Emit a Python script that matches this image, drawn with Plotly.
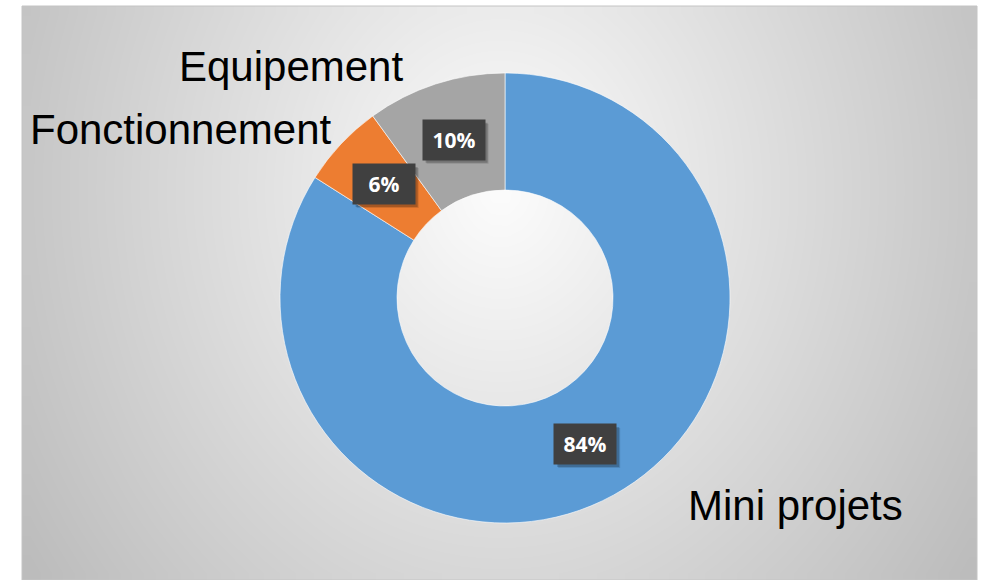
import numpy as np
import plotly.graph_objects as go

W, H = 984, 580

# chart data
categories = ["Mini projets", "Fonctionnement", "Equipement"]
shares = [84, 6, 10]
pct_labels = ["84%", "6%", "10%"]
colors = ["#5B9BD5", "#ED7D31", "#A5A5A5"]

# doughnut geometry (pixels)
cx, cy, R = 505, 298, 225
hole = 0.48

# chart panel (pixels)
px0, px1, py0, py1 = 22, 977, 6, 580

fig = go.Figure()

# radial grey gradient behind the chart
xe = np.linspace(px0, px1, 61)
ye = np.linspace(py0, py1, 41)
xc = (xe[:-1] + xe[1:]) / 2
yc = (ye[:-1] + ye[1:]) / 2
XX, YY = np.meshgrid(xc, yc)
d = np.sqrt(((XX - 500) / 480) ** 2 + ((YY - 190) / 560) ** 2)
grey = np.clip(252 - 54 * d, 180, 252)
fig.add_trace(go.Heatmap(
    x=xe, y=ye, z=grey, zmin=0, zmax=255,
    colorscale=[[0, "rgb(0,0,0)"], [1, "rgb(255,255,255)"]],
    zsmooth="best", showscale=False, hoverinfo="skip",
))

fig.add_trace(go.Pie(
    labels=categories, values=shares, sort=False,
    direction="clockwise", rotation=0, hole=hole,
    marker=dict(colors=colors, line=dict(color="rgba(255,255,255,0.6)", width=1)),
    textinfo="none", hoverinfo="label+percent", showlegend=False,
    domain=dict(x=[(cx - R) / W, (cx + R) / W],
                y=[1 - (cy + R) / H, 1 - (cy - R) / H]),
))

annotations = []
shapes = [dict(type="rect", xref="x", yref="y", x0=px0, x1=px1, y0=py0, y1=py1,
               line=dict(color="#c4c4c4", width=1), layer="above")]

# percentage tags placed mid-ring on each slice
tag_w, tag_h = 62, 40
total = sum(shares)
rm = R * (1 + hole) / 2
cum = 0
for v, txt in zip(shares, pct_labels):
    theta = 2 * np.pi * (cum + v / 2) / total
    cum += v
    lx = cx + rm * np.sin(theta)
    ly = cy - rm * np.cos(theta)
    # soft drop shadow under the tag
    for off, alpha in ((4, 0.12), (3, 0.2)):
        shapes.append(dict(type="rect", xref="paper", yref="paper", layer="above",
                           x0=(lx - tag_w / 2 + off) / W, x1=(lx + tag_w / 2 + off) / W,
                           y0=1 - (ly + tag_h / 2 + off) / H, y1=1 - (ly - tag_h / 2 + off) / H,
                           fillcolor=f"rgba(0,0,0,{alpha})", line=dict(width=0)))
    annotations.append(dict(x=lx, y=ly, xref="x", yref="y", showarrow=False,
                            text=f"<b>{txt}</b>", width=tag_w - 12, height=tag_h - 12,
                            borderpad=6, bgcolor="#404040", align="center", valign="middle",
                            font=dict(family="Open Sans", size=21, color="white")))

# category labels
cat_pos = {"Equipement": (291, 66), "Fonctionnement": (181, 129), "Mini projets": (795, 505)}
for name in categories:
    x, y = cat_pos[name]
    annotations.append(dict(x=x, y=y, xref="x", yref="y", showarrow=False,
                            text=name, font=dict(family="Liberation Sans, Arial",
                                                 size=42, color="black")))

fig.update_layout(
    width=W, height=H, margin=dict(l=0, r=0, t=0, b=0),
    paper_bgcolor="white", plot_bgcolor="white",
    xaxis=dict(range=[0, W], visible=False, fixedrange=True),
    yaxis=dict(range=[H, 0], visible=False, fixedrange=True),
    annotations=annotations,
    shapes=shapes,
)

fig.write_html("out.html")
